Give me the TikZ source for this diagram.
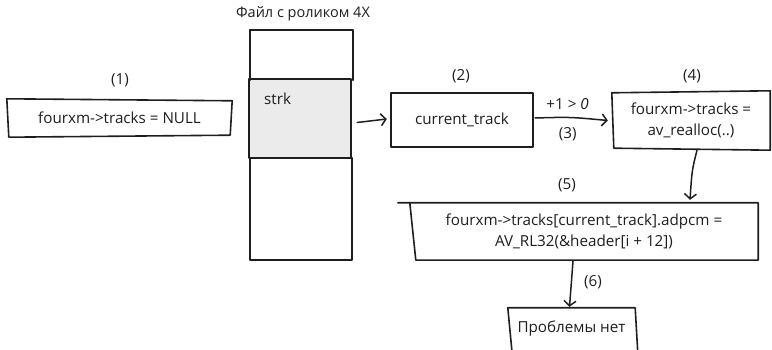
\documentclass[tikz,border=0pt]{standalone}
\usepackage{fontspec}
\setmainfont{Open Sans}
\usetikzlibrary{arrows.meta}
\definecolor{ink}{HTML}{1E1E1E}
\definecolor{cellgray}{HTML}{EBEBEB}
\tikzset{
  txt/.style={inner sep=0pt, font=\fontsize{15.2}{21}\selectfont, text=ink, align=center},
  frame/.style={draw=ink, line width=1.6pt, line join=round, line cap=round},
  link/.style={draw=ink, line width=1.5pt, line cap=round,
    -{Straight Barb[length=5pt,width=12pt,line width=1.5pt]}},
  area/.style={inner sep=0pt, minimum width=#1},
}
\begin{document}
\begin{tikzpicture}[x=1pt,y=1pt]
\useasboundingbox (0,0) rectangle (772,350);

% file column
\node[txt, font=\fontsize{14.5}{18}\selectfont] (title) at (303,336) {Файл с роликом 4X};
\fill[cellgray] (249,192) rectangle (351,271);
\node[area=103, minimum height=50] (fileTop) at (301.5,295) {};
\node[area=102, minimum height=79] (strkCell) at (300,231.5) {};
\node[area=102, minimum height=102] (fileBot) at (301,141) {};
\draw[frame] (fileTop.south west) -- (fileTop.north west) -- (fileTop.north east) -- (fileTop.south east);
\draw[frame] (strkCell.north west) -- (strkCell.north east) -- (strkCell.south east) -- (strkCell.south west) -- cycle;
\draw[frame] (fileBot.north west) -- (fileBot.south west) -- (fileBot.south east) -- (fileBot.north east);
\node[txt, anchor=west] (strk) at (264,251) {strk};

% (1)
\node[txt] (l1) at (120,270) {(1)};
\node[txt, area=225, minimum height=38] (n1) at (119.5,232) {fourxm->tracks = NULL};
\draw[frame] (n1.north west) -- ([yshift=-2]n1.north east) -- ([xshift=-2,yshift=2]n1.south east) -- ([xshift=2]n1.south west) -- cycle;

% (2)
\node[txt] (l2) at (461,274) {(2)};
\node[txt, area=142, minimum height=54] (n2) at (462,230) {current\_track};
\draw[frame] (n2.north west) -- (n2.north east) -- (n2.south east) -- (n2.south west) -- cycle;

% (4)
\node[txt] (l4) at (692,274) {(4)};
\node[txt, area=158, minimum height=55] (n4) at (691,229.5) {fourxm->tracks =\\ av\_realloc(..)};
\draw[frame] (n4.north west) -- ([yshift=2]n4.north east) -- ([yshift=-2]n4.south east) -- ([xshift=2]n4.south west) -- cycle;

% (5)
\node[txt] (l5) at (567,165) {(5)};
\node[txt, area=348, minimum height=57] (n5) at (584,118.5) {fourxm->tracks[current\_track].adpcm =\\ AV\_RL32(\&header[i + 12])};
\draw[frame] ([xshift=-12]n5.north west) -- (n5.north east) -- (n5.south east) -- ([xshift=6]n5.south west) -- (n5.north west);

% result
\node[txt, area=127, minimum height=42] (n6) at (571.5,21) {Проблемы нет};
\draw[frame] ([xshift=5,yshift=-10]n6.south west) -- (n6.north west) -- (n6.north east) -- ([xshift=3,yshift=-10]n6.south east);

% connectors
\draw[link] ([xshift=6,yshift=-4]strkCell.east) -- ([xshift=-4,yshift=1]n2.west);
\draw[link] ([xshift=2,yshift=2]n2.east) .. controls (570,233) .. ([xshift=-4]n4.west)
  node[txt, pos=0.45, above=7pt] (c3) {+1 > \textit{0}}
  node[txt, pos=0.45, below=9pt] (l3) {(3)};
\draw[link] ([xshift=6,yshift=-2]n4.south) .. controls (692,180) .. ([xshift=106,yshift=3]n5.north);
\draw[link] ([xshift=-11,yshift=-1]n5.south) -- ([xshift=-2,yshift=1]n6.north);
\node[txt] (l6) at (593,68) {(6)};
\end{tikzpicture}
\end{document}
